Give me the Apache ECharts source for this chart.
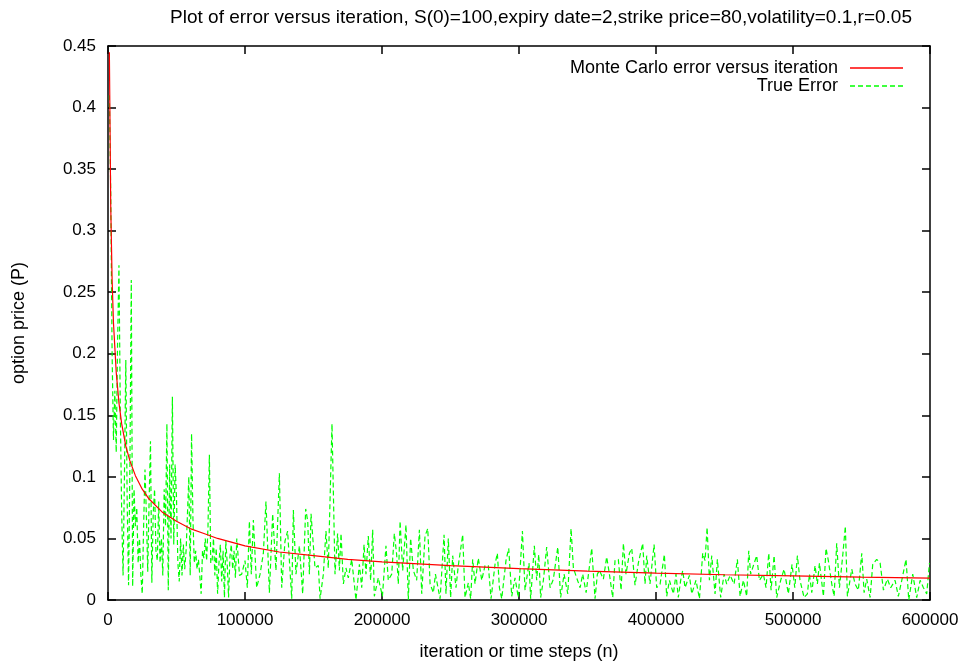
<!DOCTYPE html>
<html>
<head>
<meta charset="utf-8">
<script src="https://cdn.jsdelivr.net/npm/echarts@6/dist/echarts.min.js"></script>
<style>
  html, body { margin: 0; padding: 0; background: #fff; }
  #chart { width: 967px; height: 666px; }
</style>
</head>
<body>
<div id="chart"></div>
<script>
// axis ticks
var xTicks = [0, 100000, 200000, 300000, 400000, 500000, 600000]
var yTicks = [0, 0.05, 0.1, 0.15, 0.2, 0.25, 0.3, 0.35, 0.4, 0.45]

// Monte Carlo error estimate: [iteration, error]
var mcError = [
  [1000, 0.445], [2000, 0.32], [3000, 0.26], [4000, 0.225], [6000, 0.185],
  [8000, 0.16], [10000, 0.143], [13000, 0.125], [16000, 0.113], [20000, 0.101],
  [25000, 0.09], [30000, 0.082], [40000, 0.071], [50000, 0.064], [60000, 0.058],
  [70000, 0.054], [80000, 0.05], [100000, 0.044], [125000, 0.039], [150000, 0.036],
  [175000, 0.033], [200000, 0.031], [250000, 0.028], [300000, 0.0255], [350000, 0.0235],
  [400000, 0.0218], [450000, 0.0205], [500000, 0.0196], [550000, 0.0185], [600000, 0.0177]
]

// true error: [iteration, error]
var trueError = [
  [1000, 0.41], [2000, 0.33], [3000, 0.2], [4000, 0.13], [5000, 0.17], [6000, 0.12],
  [7000, 0.21], [8000, 0.272], [9000, 0.15], [10000, 0.07], [11000, 0.02], [12000, 0.1],
  [13000, 0.195], [14000, 0.08], [15000, 0.012], [16000, 0.11], [17000, 0.26], [18000, 0.011],
  [19000, 0.09], [20000, 0.06], [21000, 0.075], [22000, 0.03], [23000, 0.05], [24000, 0.02],
  [25000, 0.005], [26000, 0.06], [27000, 0.106], [28000, 0.07], [29000, 0.023], [30000, 0.08],
  [31000, 0.129], [32000, 0.014], [33000, 0.07], [34000, 0.09], [35000, 0.04], [36000, 0.032],
  [37000, 0.08], [38000, 0.03], [39000, 0.05], [40000, 0.02], [41000, 0.09], [42000, 0.06],
  [43000, 0.143], [44000, 0.008], [45000, 0.11], [46000, 0.05], [47000, 0.165], [48000, 0.045],
  [49000, 0.11], [50000, 0.083], [51000, 0.03], [52000, 0.015], [53000, 0.05], [54000, 0.02],
  [55000, 0.045], [56000, 0.025], [57000, 0.04], [58000, 0.07], [59000, 0.1], [60000, 0.02],
  [61000, 0.135], [62000, 0.066], [63000, 0.03], [64000, 0.04], [65000, 0.025], [66000, 0.033],
  [67000, 0.02], [68000, 0.005], [69000, 0.04], [70000, 0.034], [71000, 0.05], [72000, 0.032],
  [73000, 0.06], [74000, 0.118], [75000, 0.03], [76000, 0.032], [77000, 0.05], [78000, 0.02],
  [79000, 0.042], [80000, 0.005], [81000, 0.03], [82000, 0.045], [83000, 0.015], [84000, 0.04],
  [85000, 0.002], [86000, 0.048], [87000, 0.03], [88000, 0.002], [89000, 0.035], [90000, 0.045],
  [91000, 0.025], [92000, 0.04], [93000, 0.018], [94000, 0.05], [95000, 0.035], [96000, 0.02],
  [97600, 0.021], [100000, 0.032], [101700, 0.01], [103200, 0.064], [104600, 0.021], [106100, 0.065],
  [108500, 0.01], [111000, 0.021], [113400, 0.038], [115300, 0.08], [117800, 0.006], [120200, 0.07],
  [122600, 0.024], [125100, 0.103], [126800, 0.01], [129200, 0.048], [131100, 0.056], [134100, 0.001],
  [135300, 0.073], [137200, 0.021], [139700, 0.044], [142100, 0.005], [144300, 0.074], [145800, 0.064],
  [147000, 0.021], [148200, 0.07], [151100, 0.026], [153500, 0.028], [154800, 0.001], [157200, 0.021],
  [159100, 0.056], [160800, 0.026], [163500, 0.143], [165700, 0.021], [167600, 0.054], [168900, 0.024],
  [170100, 0.054], [171800, 0.013], [173700, 0.026], [175400, 0.018], [177900, 0.033], [181000, 0],
  [183500, 0.029], [185200, 0.01], [186900, 0.045], [188300, 0.021], [190000, 0.052], [191700, 0.016],
  [193200, 0.057], [194400, 0.003], [197300, 0.018], [200300, 0.003], [202900, 0.044], [204600, 0.016],
  [207100, 0.021], [209000, 0.054], [210700, 0.037], [211900, 0.013], [213200, 0.064], [215100, 0.024],
  [217500, 0.061], [219200, 0], [220900, 0.05], [222900, 0.024], [225300, 0.016], [227300, 0.057],
  [229000, 0.005], [231400, 0.052], [233400, 0.058], [235100, 0.013], [237500, 0.006], [239000, 0.021],
  [240400, 0.022], [242400, 0.001], [245300, 0.053], [246700, 0.005], [248400, 0.05], [250100, 0.002],
  [251600, 0.036], [254000, 0.01], [255700, 0.028], [258900, 0.053], [260600, 0.002], [263000, 0.014],
  [264700, 0.001], [266200, 0.033], [267900, 0.013], [270300, 0.034], [272800, 0.016], [275200, 0.028],
  [277600, 0.028], [279600, 0.001], [282500, 0.029], [284200, 0.038], [285700, 0.01], [287400, 0.001],
  [290500, 0.032], [292500, 0.042], [294700, 0.003], [297100, 0.018], [299500, 0.002], [302500, 0.056],
  [304400, 0.008], [307300, 0.03], [308500, 0.001], [311200, 0.044], [312900, 0.016], [314400, 0.037],
  [315800, 0.002], [317800, 0.016], [320200, 0.043], [322700, 0.01], [325100, 0.017], [328300, 0.043],
  [330400, 0.002], [332900, 0.021], [335600, 0.005], [338000, 0.058], [339700, 0.026], [342100, 0.018],
  [344600, 0.01], [346500, 0.021], [349000, 0.006], [353100, 0.042], [355500, 0.001], [357200, 0.021],
  [358700, 0.024], [361600, 0.017], [364000, 0.035], [366000, 0.021], [368400, 0.002], [370100, 0.032],
  [372500, 0.033], [374500, 0.008], [376200, 0.046], [378100, 0.021], [380600, 0.038], [382300, 0.042],
  [384700, 0.012], [387100, 0.03], [390300, 0.046], [392000, 0.013], [393200, 0.036], [395600, 0.013],
  [398600, 0.045], [400500, 0.01], [403000, 0.013], [406100, 0.037], [407800, 0.003], [409800, 0.016],
  [412700, 0.005], [414600, 0.021], [416300, 0.002], [418000, 0.016], [419500, 0.024], [421200, 0.01],
  [424400, 0.02], [426100, 0.005], [429200, 0.016], [431700, 0.001], [434100, 0.038], [435800, 0.032],
  [437300, 0.059], [439000, 0.016], [440700, 0.036], [443100, 0.005], [444800, 0.033], [447200, 0.002],
  [449700, 0.021], [451600, 0.013], [454100, 0.02], [457000, 0.013], [459400, 0.033], [461400, 0.003],
  [463800, 0.016], [466200, 0.003], [467700, 0.04], [469100, 0.021], [471100, 0.028], [473500, 0.036],
  [475500, 0.016], [478400, 0.021], [480300, 0.01], [482300, 0.038], [484000, 0.008], [486200, 0.036],
  [488100, 0.002], [491000, 0.016], [493500, 0.025], [496600, 0.005], [499300, 0.029], [501300, 0.01],
  [503200, 0.036], [505100, 0.016], [508100, 0.002], [510500, 0.005], [512000, 0.021], [513700, 0.006],
  [516100, 0.028], [517800, 0.013], [519300, 0.03], [522200, 0.003], [524100, 0.042], [525800, 0.032],
  [528300, 0.013], [530000, 0.003], [531900, 0.046], [533900, 0.01], [536300, 0.036], [538200, 0.06],
  [539700, 0.003], [542900, 0.025], [545300, 0.013], [547700, 0.008], [550200, 0.038], [551900, 0.006],
  [553800, 0.017], [556300, 0.002], [558200, 0.029], [561100, 0.033], [563600, 0.03], [566000, 0.008],
  [568900, 0.017], [571300, 0.01], [574500, 0.016], [576900, 0.003], [579400, 0.016], [582500, 0.033],
  [584500, 0], [587400, 0.021], [590300, 0.002], [592800, 0.016], [595200, 0.01], [597600, 0.005],
  [599600, 0.03]
]

var font = 'Liberation Sans'
var chart = echarts.init(document.getElementById('chart'))

// gnuplot style: black border, inward ticks mirrored on top/right
function axisCommon (pos, ticks, showLabel) {
  return {
    type: 'value',
    position: pos,
    min: ticks[0],
    max: ticks[ticks.length - 1],
    interval: ticks[1] - ticks[0],
    splitLine: { show: false },
    axisLine: { show: true, onZero: false, lineStyle: { color: '#000', width: 1.5 } },
    axisTick: { show: true, inside: true, length: 8, lineStyle: { color: '#000', width: 1.5 } },
    axisLabel: {
      show: showLabel, color: '#000', fontFamily: font, fontSize: 17, margin: 12,
      formatter: function (v) { return String(v) }
    }
  }
}

var xBottom = axisCommon('bottom', xTicks, true)
xBottom.name = 'iteration or time steps (n)'
xBottom.nameLocation = 'middle'
xBottom.nameGap = 43
xBottom.nameTextStyle = { color: '#000', fontFamily: font, fontSize: 18 }
var xTop = axisCommon('top', xTicks, false)

var yLeft = axisCommon('left', yTicks, true)
yLeft.name = 'option price (P)'
yLeft.nameLocation = 'middle'
yLeft.nameGap = 80
yLeft.nameTextStyle = { color: '#000', fontFamily: font, fontSize: 18 }
var yRight = axisCommon('right', yTicks, false)

// legend samples: solid line and gnuplot-like dashes
var solidIcon = 'path://M0,0h53v1.3h-53z'
var dashIcon = 'path://M0,0h5v1.3h-5zM8,0h5v1.3h-5zM16,0h5v1.3h-5zM24,0h5v1.3h-5zM32,0h5v1.3h-5zM40,0h5v1.3h-5zM48,0h5v1.3h-5z'

chart.setOption({
  animation: false,
  title: {
    text: 'Plot of error versus iteration, S(0)=100,expiry date=2,strike price=80,volatility=0.1,r=0.05',
    left: 536,
    textAlign: 'center',
    top: 3,
    textStyle: { color: '#000', fontFamily: font, fontSize: 19, fontWeight: 'normal' }
  },
  legend: [
    {
      data: [{ name: 'Monte Carlo error versus iteration', icon: solidIcon }],
      right: 59, top: 54, itemWidth: 53, itemHeight: 14,
      align: 'right',
      textStyle: { color: '#000', fontFamily: font, fontSize: 18, padding: [0, 7, 0, 0] }
    },
    {
      data: [{ name: 'True Error', icon: dashIcon }],
      right: 59, top: 72, itemWidth: 53, itemHeight: 14,
      align: 'right',
      textStyle: { color: '#000', fontFamily: font, fontSize: 18, padding: [0, 7, 0, 0] }
    }
  ],
  grid: { left: 108, right: 37, top: 46, bottom: 60 },
  xAxis: [xBottom, xTop],
  yAxis: [yLeft, yRight],
  series: [
    {
      name: 'Monte Carlo error versus iteration',
      type: 'line',
      symbol: 'none',
      data: mcError,
      lineStyle: { color: '#ff0000', width: 1.2 },
      itemStyle: { color: '#ff0000' },
      z: 3
    },
    {
      name: 'True Error',
      type: 'line',
      symbol: 'none',
      data: trueError,
      lineStyle: { color: '#00ff00', width: 1.2, type: [5, 3] },
      itemStyle: { color: '#00ff00' },
      z: 2
    }
  ]
})
</script>
</body>
</html>
